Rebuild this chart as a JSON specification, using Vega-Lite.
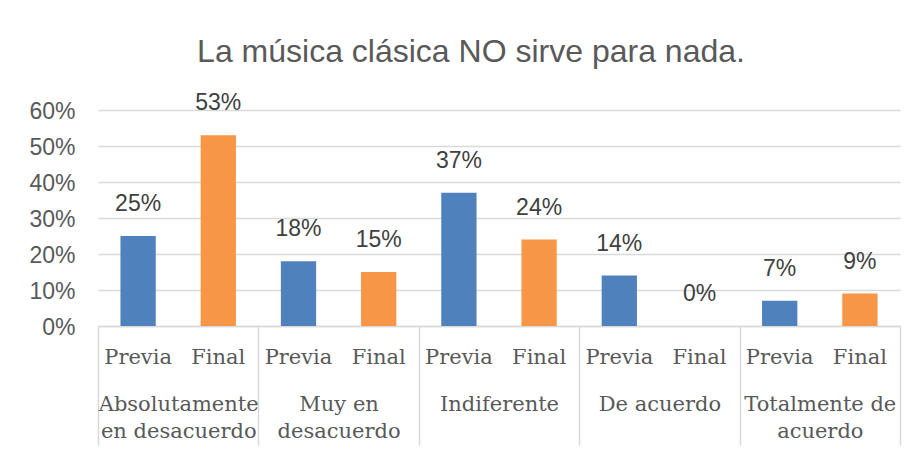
{
  "$schema": "https://vega.github.io/schema/vega-lite/v6.json",
  "width": 802,
  "height": 216,
  "autosize": {"type": "none"},
  "padding": {"left": 98, "top": 110, "right": 20, "bottom": 127},
  "background": "white",
  "title": {
    "text": "La música clásica NO sirve para nada.",
    "font": "Liberation Sans",
    "fontSize": 32,
    "fontWeight": "normal",
    "color": "#595959",
    "anchor": "middle",
    "frame": "group",
    "baseline": "alphabetic",
    "offset": 46,
    "dx": -28,
    "dy": 48
  },
  "config": {
    "view": {"stroke": null},
    "axis": {"labelFont": "Liberation Sans"}
  },
  "data": {
    "values": [
      {"cat": "Absolutamente|en desacuerdo", "serie": "Previa", "k": "1/Previa", "v": 0.25},
      {"cat": "Absolutamente|en desacuerdo", "serie": "Final", "k": "1/Final", "v": 0.53},
      {"cat": "Muy en|desacuerdo", "serie": "Previa", "k": "2/Previa", "v": 0.18},
      {"cat": "Muy en|desacuerdo", "serie": "Final", "k": "2/Final", "v": 0.15},
      {"cat": "Indiferente", "serie": "Previa", "k": "3/Previa", "v": 0.37},
      {"cat": "Indiferente", "serie": "Final", "k": "3/Final", "v": 0.24},
      {"cat": "De acuerdo", "serie": "Previa", "k": "4/Previa", "v": 0.14},
      {"cat": "De acuerdo", "serie": "Final", "k": "4/Final", "v": 0.0},
      {"cat": "Totalmente de|acuerdo", "serie": "Previa", "k": "5/Previa", "v": 0.07},
      {"cat": "Totalmente de|acuerdo", "serie": "Final", "k": "5/Final", "v": 0.09}
    ]
  },
  "layer": [
    {
      "layer": [
        {
          "mark": {"type": "bar"},
          "encoding": {
            "x": {
              "field": "k",
              "type": "nominal",
              "sort": null,
              "scale": {"paddingInner": 0.56, "paddingOuter": 0.28},
              "axis": {
                "title": null,
                "orient": "bottom",
                "ticks": false,
                "domain": true,
                "domainColor": "#D9D9D9",
                "domainWidth": 1.5,
                "labelExpr": "split(datum.label, '/')[1]",
                "labelFont": "DejaVu Serif",
                "labelFontSize": 21,
                "labelColor": "#595959",
                "labelAngle": 0,
                "labelBaseline": "alphabetic",
                "labelPadding": 37,
                "labelOverlap": false,
                "labelBound": false,
                "labelFlush": false
              }
            },
            "y": {
              "field": "v",
              "type": "quantitative",
              "scale": {"domain": [0, 0.6], "nice": false},
              "axis": {
                "title": null,
                "values": [0, 0.1, 0.2, 0.3, 0.4, 0.5, 0.6],
                "tickCount": 7,
                "format": ".0%",
                "domain": false,
                "ticks": false,
                "grid": true,
                "gridColor": "#D9D9D9",
                "gridWidth": 1.5,
                "labelFont": "Liberation Sans",
                "labelFontSize": 23,
                "labelColor": "#595959",
                "labelPadding": 23,
                "labelBaseline": "alphabetic",
                "labelOffset": 8,
                "labelOverlap": false,
                "labelBound": false,
                "labelFlush": false
              }
            },
            "color": {
              "field": "serie",
              "type": "nominal",
              "scale": {"domain": ["Previa", "Final"], "range": ["#4F81BD", "#F79646"]},
              "legend": null
            }
          }
        },
        {
          "mark": {
            "type": "text",
            "font": "Liberation Sans",
            "fontSize": 23,
            "color": "#404040",
            "baseline": "alphabetic",
            "align": "center",
            "dy": -25
          },
          "encoding": {
            "x": {"field": "k", "type": "nominal", "sort": null},
            "y": {
              "field": "v",
              "type": "quantitative",
              "axis": {
                "title": null,
                "values": [0, 0.1, 0.2, 0.3, 0.4, 0.5, 0.6],
                "tickCount": 7,
                "format": ".0%",
                "domain": false,
                "ticks": false,
                "grid": true,
                "gridColor": "#D9D9D9",
                "gridWidth": 1.5,
                "labelFont": "Liberation Sans",
                "labelFontSize": 23,
                "labelColor": "#595959",
                "labelPadding": 23,
                "labelBaseline": "alphabetic",
                "labelOffset": 8,
                "labelOverlap": false,
                "labelBound": false,
                "labelFlush": false
              }
            },
            "text": {"field": "v", "type": "quantitative", "format": ".0%"}
          }
        }
      ]
    },
    {
      "mark": {"type": "rule", "opacity": 0},
      "encoding": {
        "x": {
          "field": "cat",
          "type": "nominal",
          "sort": null,
          "scale": {"paddingInner": 0, "paddingOuter": 0},
          "axis": {
            "title": null,
            "orient": "bottom",
            "domain": false,
            "ticks": true,
            "tickBand": "extent",
            "tickSize": 119,
            "tickColor": "#D9D9D9",
            "tickWidth": 1.5,
            "labelExpr": "split(datum.label, '|')",
            "labelFont": "DejaVu Serif",
            "labelFontSize": 21,
            "labelColor": "#595959",
            "labelAngle": 0,
            "labelBaseline": "alphabetic",
            "labelLineHeight": 27,
            "labelPadding": -35,
            "labelOverlap": false,
            "labelBound": false,
            "labelFlush": false,
            "labelLimit": 300
          }
        }
      }
    }
  ],
  "resolve": {"scale": {"x": "independent"}}
}
